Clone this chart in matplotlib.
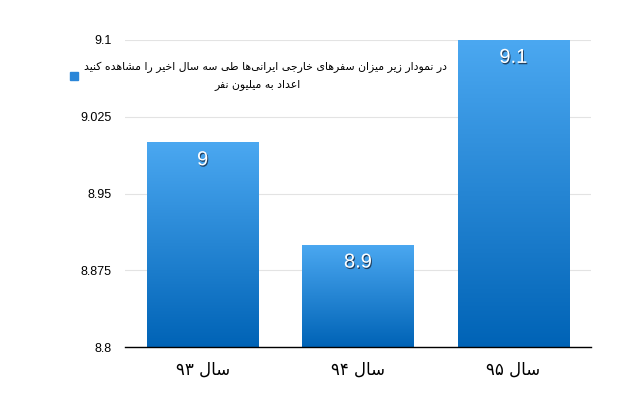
import re
import numpy as np
import matplotlib
matplotlib.use('Agg')
import matplotlib.pyplot as plt
import matplotlib.patheffects as pe
from matplotlib.colors import LinearSegmentedColormap
from matplotlib.patches import Rectangle

years = ['سال ۹۳', 'سال ۹۴', 'سال ۹۵']
values = [9.0, 8.9, 9.1]
value_labels = ['9', '8.9', '9.1']
yticks = [8.8, 8.875, 8.95, 9.025, 9.1]
ytick_labels = ['8.8', '8.875', '8.95', '9.025', '9.1']
legend_lines = ['در نمودار زیر میزان سفرهای خارجی ایرانی\u200cها طی سه سال اخیر را مشاهده کنید',
                'اعداد به میلیون نفر']

# presentation forms: isolated, final, initial, medial
FORMS = {
    '\u0627': ('\uFE8D', '\uFE8E', None, None),
    '\u0628': ('\uFE8F', '\uFE90', '\uFE91', '\uFE92'),
    '\u062A': ('\uFE95', '\uFE96', '\uFE97', '\uFE98'),
    '\u062C': ('\uFE9D', '\uFE9E', '\uFE9F', '\uFEA0'),
    '\u062E': ('\uFEA5', '\uFEA6', '\uFEA7', '\uFEA8'),
    '\u062F': ('\uFEA9', '\uFEAA', None, None),
    '\u0631': ('\uFEAD', '\uFEAE', None, None),
    '\u0632': ('\uFEAF', '\uFEB0', None, None),
    '\u0633': ('\uFEB1', '\uFEB2', '\uFEB3', '\uFEB4'),
    '\u0634': ('\uFEB5', '\uFEB6', '\uFEB7', '\uFEB8'),
    '\u0637': ('\uFEC1', '\uFEC2', '\uFEC3', '\uFEC4'),
    '\u0639': ('\uFEC9', '\uFECA', '\uFECB', '\uFECC'),
    '\u0641': ('\uFED1', '\uFED2', '\uFED3', '\uFED4'),
    '\u0644': ('\uFEDD', '\uFEDE', '\uFEDF', '\uFEE0'),
    '\u0645': ('\uFEE1', '\uFEE2', '\uFEE3', '\uFEE4'),
    '\u0646': ('\uFEE5', '\uFEE6', '\uFEE7', '\uFEE8'),
    '\u0647': ('\uFEE9', '\uFEEA', '\uFEEB', '\uFEEC'),
    '\u0648': ('\uFEED', '\uFEEE', None, None),
    '\u06CC': ('\uFBFC', '\uFBFD', '\uFBFE', '\uFBFF'),
    '\u06A9': ('\uFB8E', '\uFB8F', '\uFB90', '\uFB91'),
}


def shape(text):
    out = []
    for i, ch in enumerate(text):
        if ch not in FORMS:
            out.append(ch)
            continue
        prev = text[i - 1] if i > 0 else ''
        nxt = text[i + 1] if i + 1 < len(text) else ''
        join_prev = prev in FORMS and FORMS[prev][2] is not None
        join_next = FORMS[ch][2] is not None and nxt in FORMS
        iso, fin, ini, med = FORMS[ch]
        if join_prev and join_next:
            out.append(med)
        elif join_prev:
            out.append(fin)
        elif join_next:
            out.append(ini)
        else:
            out.append(iso)
    s = ''.join(out).replace('\u200c', '')[::-1]
    return re.sub(r'[0-9\u06F0-\u06F9]+', lambda m: m.group()[::-1], s)


fa_font = ['DejaVu Sans']
num_font = ['Liberation Sans', 'DejaVu Sans']
cmap = LinearSegmentedColormap.from_list('bar', ['#0063b6', '#4ba8f1'])
grad = np.linspace(0, 1, 256).reshape(-1, 1)

fig = plt.figure(figsize=(6.21, 4.18), dpi=100)
ax = fig.add_axes([125 / 621, 1 - 347 / 418, 466 / 621, 307 / 418])

x = np.arange(len(values))
width = 0.715
bars = ax.bar(x, np.array(values) - 8.8, width, bottom=8.8,
              color='none', edgecolor='none', zorder=2)
for b in bars:
    x0, y0 = b.get_x(), b.get_y()
    im = ax.imshow(grad, cmap=cmap, origin='lower', aspect='auto',
                   extent=[x0, x0 + b.get_width(), y0, y0 + b.get_height()],
                   zorder=2)
    im.set_clip_path(b)

for xi, v, lab in zip(x, values, value_labels):
    ax.annotate(lab, (xi, v), xytext=(0, -12.5), textcoords='offset points',
                ha='center', va='center', color='white', fontsize=14.5,
                family=num_font, zorder=4,
                path_effects=[pe.withSimplePatchShadow(offset=(0.7, -1.0),
                                                       shadow_rgbFace='#1a2a40',
                                                       alpha=0.8)])

ax.set_xlim(-0.5, 2.5)
ax.set_ylim(8.8, 9.1)
ax.set_yticks(yticks)
ax.set_yticklabels(ytick_labels, family=num_font, fontsize=9)
ax.set_xticks(x)
ax.set_xticklabels([shape(y) for y in years], family=fa_font, fontsize=12)
ax.tick_params(axis='both', length=0)
ax.tick_params(axis='y', pad=9.5)
ax.tick_params(axis='x', pad=10)
ax.yaxis.grid(True, color='#e3e3e3', linewidth=0.8, zorder=0)
ax.set_axisbelow(True)
for side in ['left', 'right', 'top']:
    ax.spines[side].set_visible(False)
ax.spines['bottom'].set_color('black')
ax.spines['bottom'].set_linewidth(1.0)
ax.spines['bottom'].set_zorder(5)

# legend box
fig.patches.append(Rectangle((70 / 621, 1 - 80 / 418), 8 / 621, 8 / 418,
                             transform=fig.transFigure, color='#2a86d8'))
fig.text(266 / 621, 1 - 67 / 418, shape(legend_lines[0]), ha='center', va='center',
         family=fa_font, fontsize=7.8)
fig.text(258 / 621, 1 - 85 / 418, shape(legend_lines[1]), ha='center', va='center',
         family=fa_font, fontsize=7.8)

fig.savefig('out.png', dpi=100)
